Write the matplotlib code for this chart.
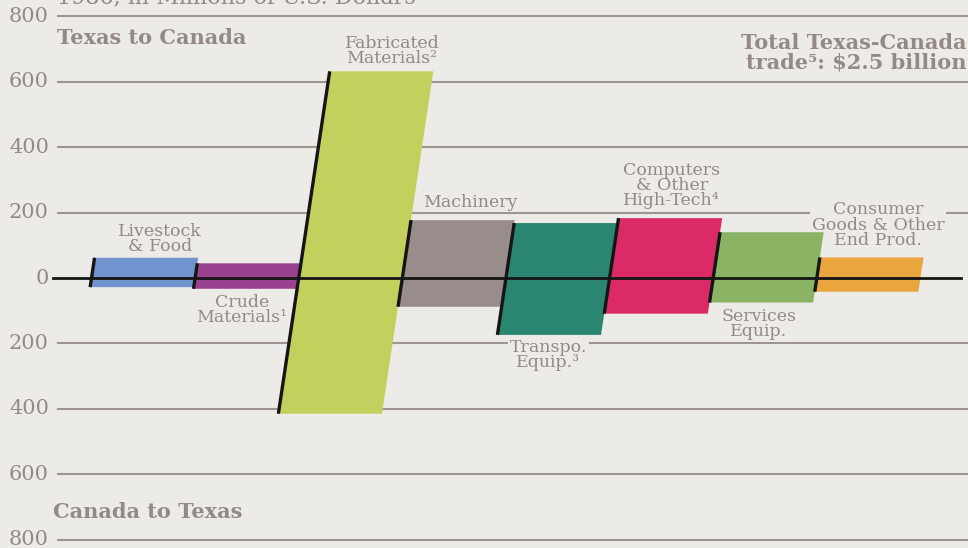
import matplotlib

matplotlib.use("Agg")
import matplotlib.pyplot as plt
from matplotlib.patches import Polygon

# 1986 trade, millions of U.S. dollars
categories = [
    "Livestock\n& Food",
    "Crude\nMaterials\u00b9",
    "Fabricated\nMaterials\u00b2",
    "Machinery",
    "Transpo.\nEquip.\u00b3",
    "Computers\n& Other\nHigh-Tech\u2074",
    "Services\nEquip.",
    "Consumer\nGoods & Other\nEnd Prod.",
]
texas_to_canada = [62, 45, 632, 177, 168, 183, 140, 63]
canada_to_texas = [28, 33, 415, 88, 174, 109, 75, 42]
colors = ["#7193cf", "#9a4290", "#c4d05e", "#988d8a",
          "#2a8671", "#dc2967", "#8ab364", "#eaa63e"]
tick_values = [800, 600, 400, 200, 0, -200, -400, -600, -800]
tick_labels = ["800", "600", "400", "200", "0", "200", "400", "600", "800"]

# label anchors (x in category units, y in $M)
label_pos = [(0.66, 119), (1.45, -98), (2.90, 693), (3.66, 232),
             (4.41, -235), (5.60, 283), (6.44, -142), (7.59, 162)]

BG = "#edebe7"
GRID = "#9e9591"
TEXT = "#938985"
SHEAR = 0.000473  # horizontal slant of the blocks, categories per $M
FONT = "DejaVu Serif"

fig = plt.figure(figsize=(9.68, 5.48), dpi=100, facecolor=BG)
ax = fig.add_axes([0, 0, 1, 1])
ax.set_facecolor(BG)
ax.set_xlim(-0.883, 8.459)
ax.set_ylim(-825.7, 850.2)
ax.axis("off")

# grid lines
for v in tick_values:
    if v != 0:
        ax.plot([-0.333, 8.46], [v, v], color=GRID, lw=1.5, zorder=1,
                solid_capstyle="butt")
for v, lab in zip(tick_values, tick_labels):
    ax.text(-0.41, v, lab, ha="right", va="center", fontsize=15,
            color=TEXT, family=FONT)

# slanted blocks
for i, (top, bot, col) in enumerate(zip(texas_to_canada, canada_to_texas, colors)):
    pts = [
        (i - SHEAR * bot, -bot),
        (i + 1 - SHEAR * bot, -bot),
        (i + 1 + SHEAR * top, top),
        (i + SHEAR * top, top),
    ]
    ax.add_patch(Polygon(pts, closed=True, facecolor=col, edgecolor="none", zorder=3))
    ax.plot([i - SHEAR * bot, i + SHEAR * top], [-bot, top], color="#151515",
            lw=2.4, zorder=5, solid_capstyle="butt")

ax.plot([-0.372, 8.39], [0, 0], color="#151515", lw=2.0, zorder=4)

# category labels
for lab, (x, y) in zip(categories, label_pos):
    ax.text(x, y, lab, ha="center", va="center", fontsize=12.5, color=TEXT,
            family=FONT, linespacing=0.85, zorder=2,
            bbox=dict(facecolor=BG, edgecolor="none", pad=1.0))

# headings
ax.text(-0.333, 734, "Texas to Canada", ha="left", va="center", fontsize=15,
        fontweight="bold", color=TEXT, family=FONT)
ax.text(-0.372, -716, "Canada to Texas", ha="left", va="center", fontsize=15,
        fontweight="bold", color=TEXT, family=FONT)
ax.text(8.44, 688, "Total Texas-Canada\ntrade\u2075: $2.5 billion", ha="right",
        va="center", fontsize=15, fontweight="bold", color=TEXT, family=FONT,
        linespacing=0.95)
ax.text(-0.333, 840, "1986, in Millions of U.S. Dollars", ha="left",
        va="baseline", fontsize=16, color=TEXT, family=FONT, clip_on=False)

fig.savefig("out.png", dpi=100, facecolor=BG)
